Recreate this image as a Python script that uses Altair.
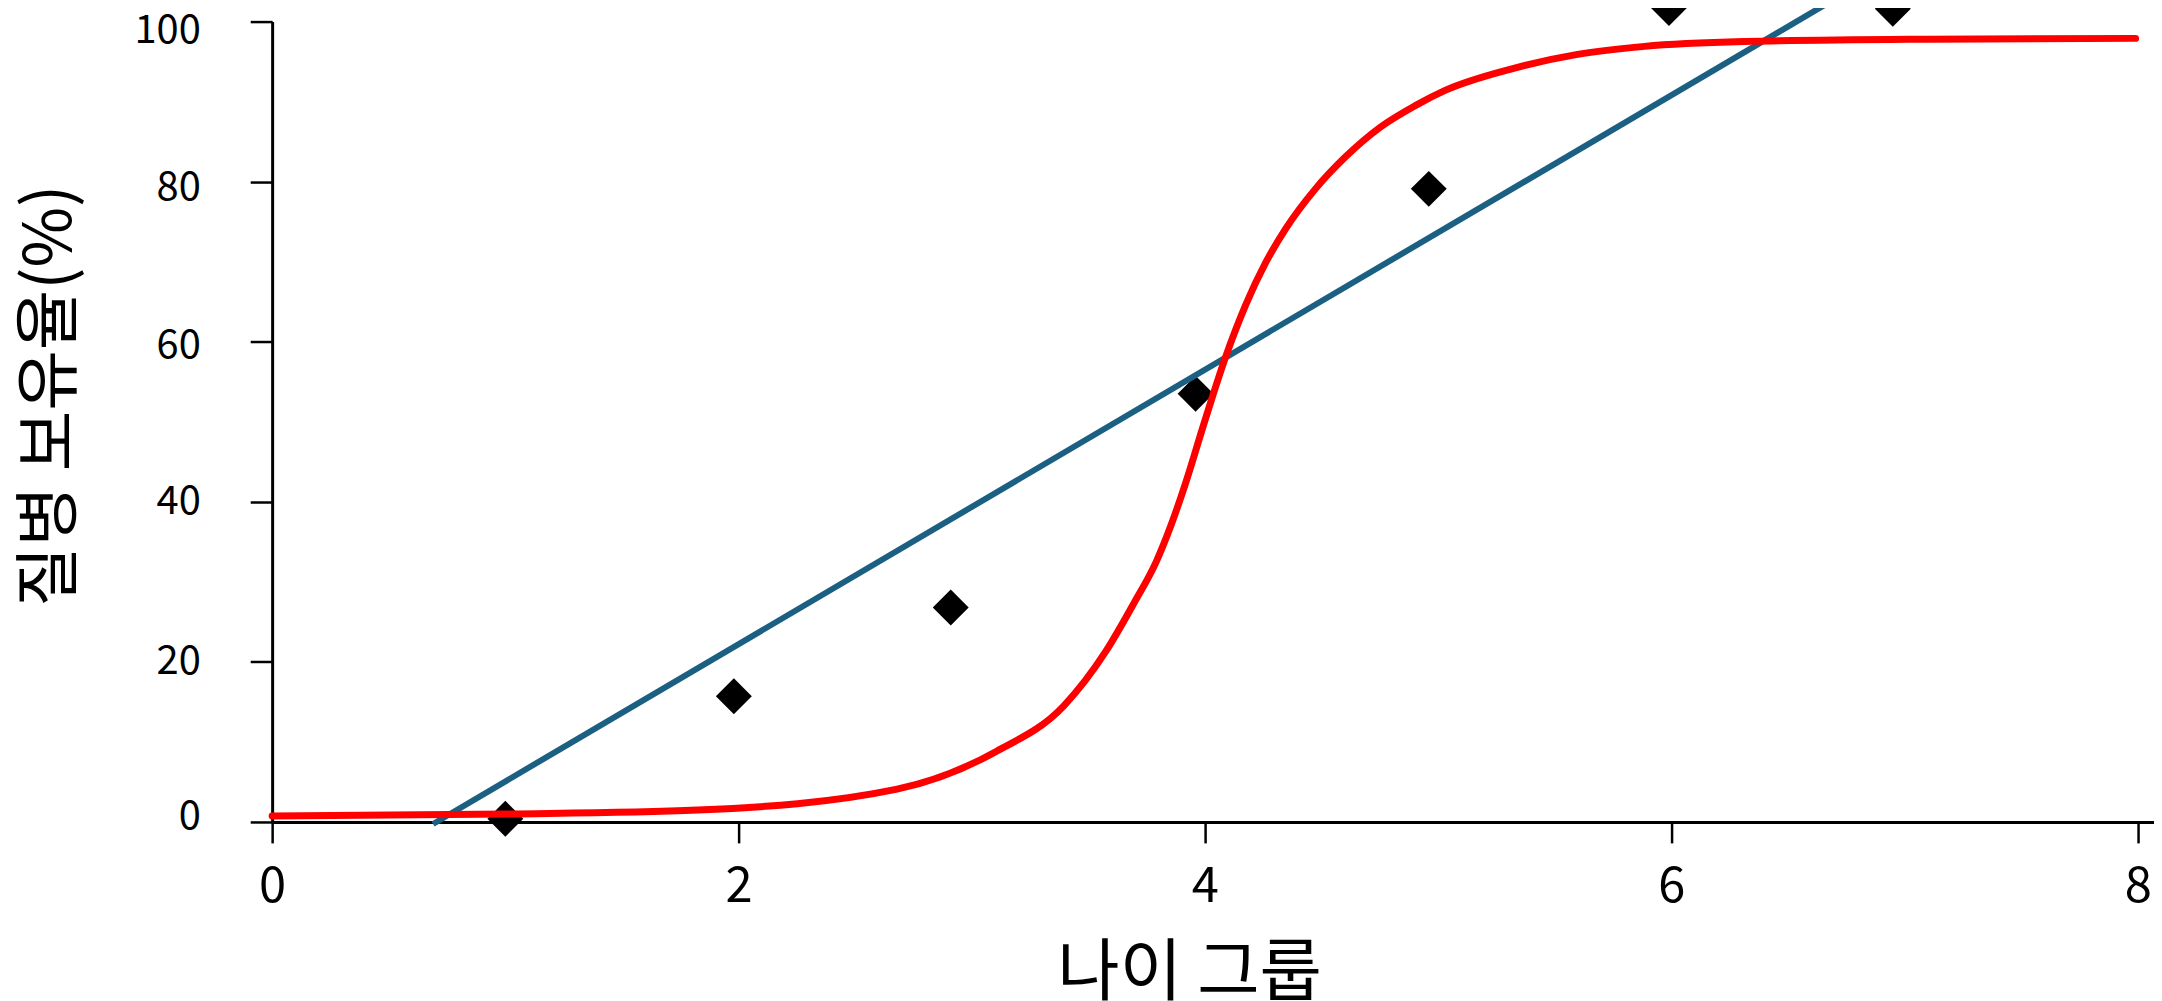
import altair as alt
import pandas as pd

# observed points (age group, prevalence %)
age = [1.0, 1.98, 2.91, 3.96, 4.96, 5.99, 6.95]
rate = [0.4, 15.7, 26.8, 53.5, 79.1, 101.7, 101.6]

# linear trend line end points
lin_x = [0.69, 6.70]
lin_y = [-0.25, 102.8]

# sigmoid fitted curve
cur_x = [0.0, 1.013, 1.825, 2.68, 3.107, 3.393, 3.577, 3.697, 3.791, 3.855,
         3.919, 3.991, 4.090, 4.175, 4.261, 4.346, 4.474, 4.603, 4.752, 4.902,
         5.030, 5.316, 5.598, 5.885, 6.312, 7.094, 7.991]
cur_y = [0.75, 1.0, 1.5, 4.1, 8.84, 14.45, 21.4, 27.4, 32.5, 37.1,
         42.5, 49.3, 58.2, 64.6, 69.9, 74.1, 79.1, 83.1, 86.8, 89.5,
         91.4, 94.1, 95.9, 96.9, 97.5, 97.8, 97.9]

x_ticks = [0, 2, 4, 6, 8]
y_ticks = [0, 20, 40, 60, 80, 100]

pts = pd.DataFrame({"x": age, "y": rate})
lin = pd.DataFrame({"x": lin_x, "y": lin_y})
cur = pd.DataFrame({"x": cur_x, "y": cur_y})

FONT = "Noto Sans CJK KR"

xscale = alt.Scale(domain=[0, 8.07], nice=False, zero=False)
yscale = alt.Scale(domain=[0, 100], nice=False, zero=False)

xaxis = alt.Axis(values=x_ticks, format="d", title="나이 그룹", grid=False,
                 domainColor="black", domainWidth=3, tickColor="black",
                 tickWidth=2.5, tickSize=21, labelPadding=20,
                 labelFont="Liberation Sans Narrow, Noto Sans CJK KR",
                 labelFontSize=49, labelColor="black",
                 titleFont=FONT, titleFontSize=68, titleFontWeight="normal",
                 titleColor="black", titleX=920, titleY=173,
                 titleBaseline="alphabetic", titleAlign="center",
                 labelFlush=False, labelOverlap=False)

yaxis = alt.Axis(values=y_ticks, format="d", title="질병 보유율(%)", grid=False,
                 domainColor="black", domainWidth=3, tickColor="black",
                 tickWidth=2.5, tickSize=22, labelPadding=50,
                 labelFont=FONT, labelFontSize=40, labelColor="black",
                 labelOffset={"condition": [
                     {"test": "datum.value == 100", "value": 9},
                     {"test": "datum.value == 80", "value": 6},
                     {"test": "datum.value == 60", "value": 4},
                     {"test": "datum.value == 0", "value": -5}],
                     "value": 0},
                 titleFont=FONT, titleFontSize=66, titleFontWeight="normal",
                 titleColor="black", titleX=-222, titleY=375,
                 titleAngle=-90, titleAlign="center", titleBaseline="middle",
                 labelFlush=False, labelOverlap=False)

points = alt.Chart(pts).mark_point(shape="diamond", filled=True, size=1300,
                                   color="black", opacity=1, clip=False).encode(
    x=alt.X("x:Q", scale=xscale, axis=xaxis),
    y=alt.Y("y:Q", scale=yscale, axis=yaxis),
)

trend = alt.Chart(lin).mark_line(color="#1b6082", strokeWidth=6, clip=False).encode(
    x=alt.X("x:Q", scale=xscale),
    y=alt.Y("y:Q", scale=yscale),
)

curve = alt.Chart(cur).mark_line(color="#ff0000", strokeWidth=7, strokeCap="round",
                                 interpolate="monotone", clip=False).encode(
    x=alt.X("x:Q", scale=xscale),
    y=alt.Y("y:Q", scale=yscale),
)

chart = alt.layer(points, trend, curve).properties(
    width=1888, height=803,
    padding={"left": 265, "top": 12, "right": 0, "bottom": 178},
    autosize=alt.AutoSizeParams(type="none"),
    background="white",
).configure_view(stroke=None)

chart.save("out.html", embed_options={"renderer": "svg", "actions": False})
